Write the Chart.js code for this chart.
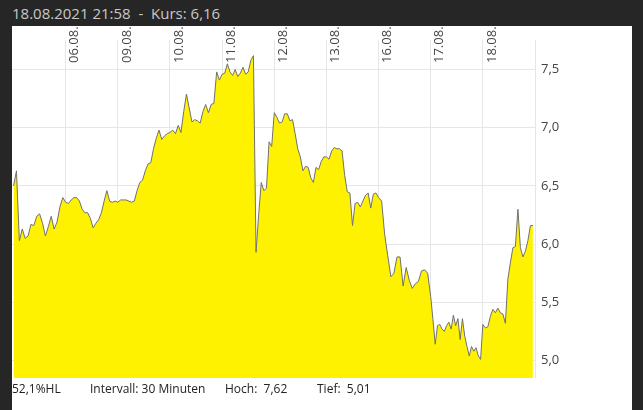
<!DOCTYPE html>
<html><head><meta charset="utf-8">
<script src="https://cdn.jsdelivr.net/npm/chart.js@4/dist/chart.umd.min.js"></script>
<style>
html,body{margin:0;padding:0;background:#262626;width:643px;height:410px;overflow:hidden;font-family:"Open Sans",sans-serif}
#hdr{position:absolute;left:12px;top:3px;color:#c8c8c8;font-size:15px;white-space:pre}
#panel{position:absolute;left:12px;top:26px;width:620px;height:384px;background:#fff}
#ftr{position:absolute;left:12px;top:380px;font-size:12px;color:#222;white-space:pre}
#ftr span{position:absolute;top:0}
</style></head><body>
<div id="hdr">18.08.2021 21:58  -  Kurs: 6,16</div>
<div id="panel"><canvas id="c" width="620" height="384"></canvas></div>
<div id="ftr"><span style="left:0">52,1%HL</span><span style="left:78px">Intervall: 30 Minuten</span><span style="left:213px">Hoch:&nbsp;&nbsp;7,62</span><span style="left:305px">Tief:&nbsp;&nbsp;5,01</span></div>
<script>
const dayLabels=["05.08.","06.08.","09.08.","10.08.","11.08.","12.08.","13.08.","16.08.","17.08.","18.08."];
const dayFraction=[1,1,1,1,1,1,1,1,1,0.96];
const day05=[6.50,6.63,6.03,6.13,6.05,6.07,6.17,6.16,6.24,6.26,6.18,6.07,6.15,6.24,6.13,6.19,6.32,6.40];
const day06=[6.36,6.35,6.38,6.40,6.40,6.37,6.30,6.27,6.27,6.22,6.14,6.18,6.21,6.27,6.37,6.46,6.37,6.36,6.37];
const day09=[6.36,6.38,6.38,6.38,6.37,6.36,6.37,6.46,6.53,6.55,6.63,6.69,6.70,6.82,6.91,6.98,6.90,6.93,6.95];
const day10=[6.96,6.98,6.95,7.02,6.96,7.14,7.29,7.17,7.05,7.07,7.06,7.04,7.14,7.20,7.13,7.20,7.21,7.48,7.41];
const day11=[7.46,7.47,7.55,7.48,7.45,7.50,7.44,7.47,7.52,7.46,7.48,7.58,7.62,5.93,6.25,6.53,6.46,6.48,6.88,6.84];
const day12=[7.13,7.09,7.04,7.05,7.12,7.12,7.06,7.07,6.95,6.82,6.75,6.63,6.67,6.66,6.57,6.53,6.66,6.64,6.71,6.75];
const day13=[6.75,6.73,6.80,6.83,6.82,6.82,6.80,6.59,6.45,6.44,6.16,6.35,6.36,6.32,6.37,6.42,6.44,6.31,6.43,6.44];
const day16=[6.40,6.37,6.08,5.90,5.72,5.75,5.89,5.89,5.64,5.80,5.69,5.62,5.66,5.68,5.77,5.78,5.75];
const day17=[5.55,5.35,5.14,5.30,5.31,5.27,5.25,5.30,5.33,5.27,5.39,5.30,5.36,5.18,5.36,5.21,5.12,5.04,5.12,5.08,5.11,5.04,5.01];
const day18=[5.31,5.28,5.29,5.38,5.44,5.41,5.45,5.41,5.40,5.32,5.70,5.84,5.97,5.98,6.30,5.97,5.89,5.94,6.03,6.16,6.16];
const yTicks=[5.0,5.5,6.0,6.5,7.0,7.5];

const days=[day05,day06,day09,day10,day11,day12,day13,day16,day17,day18];
const pts=[];
days.forEach((vals,d)=>{const n=d===days.length-1?vals.length-1:vals.length;
  vals.forEach((v,i)=>pts.push({x:d-1+dayFraction[d]*i/n,y:v}));});

const labelPlugin={id:'lbl',afterDraw(ch){const ctx=ch.ctx,xs=ch.scales.x;ctx.save();
  ctx.font='13px "Open Sans"';ctx.fillStyle='#444';ctx.textBaseline='middle';ctx.textAlign='left';
  for(let i=1;i<dayLabels.length;i++){const px=xs.getPixelForValue(i-1)+9;
    ctx.save();ctx.translate(px,37);ctx.rotate(-Math.PI/2);ctx.fillText(dayLabels[i],0,0);ctx.restore();}
  ctx.restore();}};

new Chart(document.getElementById('c'),{type:'line',
 data:{datasets:[{data:pts,borderColor:'#707070',borderWidth:1,backgroundColor:'#fff200',fill:'start',pointRadius:0,tension:0}]},
 options:{responsive:false,animation:false,events:[],layout:{padding:{left:0,right:0,top:0,bottom:0}},
  plugins:{legend:{display:false},tooltip:{enabled:false}},
  scales:{
   x:{type:'linear',min:-1.03,max:9,display:true,
      afterBuildTicks(s){s.ticks=[0,1,2,3,4,5,6,7,8,9].map(v=>({value:v}));},
      ticks:{display:false},grid:{color:'#e6e6e6',drawTicks:false},border:{display:false},
      afterFit(s){s.height=32;}},
   y:{type:'linear',position:'right',min:4.85,max:7.756,
      afterBuildTicks(s){s.ticks=yTicks.map(v=>({value:v}));},
      ticks:{padding:6,color:'#444',font:{size:13,family:'"Open Sans"'},callback:v=>v.toFixed(1).replace('.',',')},
      grid:{color:'#e6e6e6',drawTicks:false},border:{display:false},
      afterFit(s){s.width=97;}}
  }},plugins:[labelPlugin]});
</script></body></html>
